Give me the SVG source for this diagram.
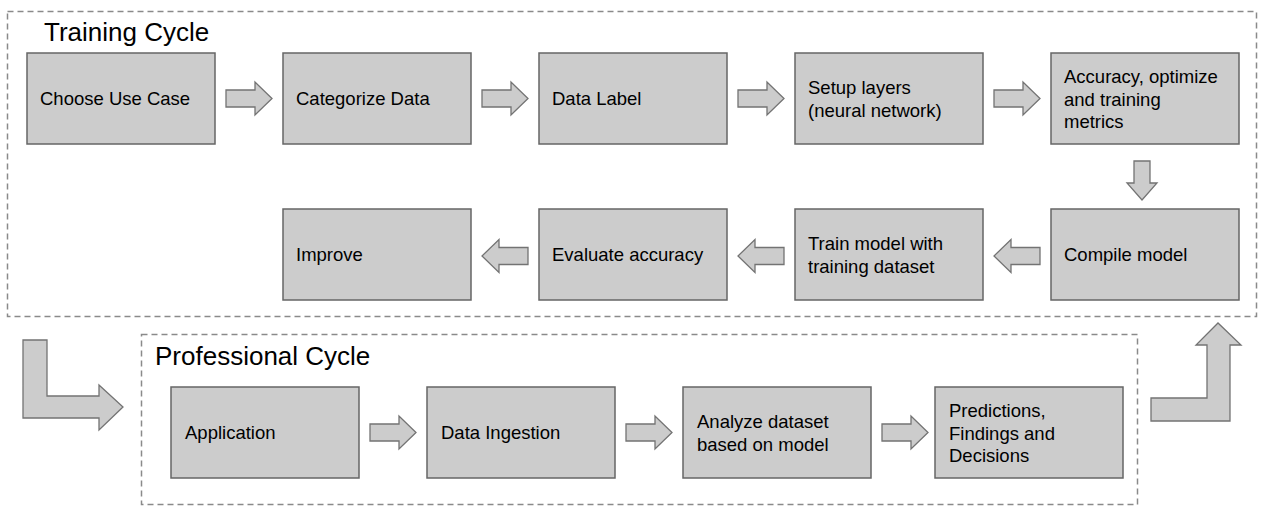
<svg xmlns="http://www.w3.org/2000/svg" width="1264" height="515" viewBox="0 0 1264 515">
<style>
.frame{fill:none;stroke:#8a8a8a;stroke-width:1.5;stroke-dasharray:6 4}
.box{fill:#cccccc;stroke:#666666;stroke-width:1.5}
.arrow{fill:#cccccc;stroke:#737373;stroke-width:1.3;stroke-linejoin:miter}
.t{font-family:"Liberation Sans",Arial,sans-serif;font-size:18.5px;fill:#000}
.title{font-family:"Liberation Sans",Arial,sans-serif;font-size:26px;fill:#000}
</style>
<defs>
<path id="ar" d="M0,-8.5 H29 V-16.5 L46,0 L29,16.5 V8.5 H0 Z"/>
<path id="al" d="M46,-8.5 H17 V-16.5 L0,0 L17,16.5 V8.5 H46 Z"/>
</defs>
<rect width="1264" height="515" fill="#ffffff"/>
<g id="training-cycle">
<rect class="frame" x="7.5" y="11.5" width="1249" height="305"/>
<text class="title" x="44" y="41">Training Cycle</text>
</g>
<g id="professional-cycle">
<rect class="frame" x="141.5" y="334.5" width="996" height="170"/>
<text class="title" x="155" y="364.5">Professional Cycle</text>
</g>
<g id="n1"><rect class="box" x="27" y="53" width="188" height="91"/><text class="t" x="40" y="105">Choose Use Case</text></g>
<g id="n2"><rect class="box" x="283" y="53" width="188" height="91"/><text class="t" x="296" y="105">Categorize Data</text></g>
<g id="n3"><rect class="box" x="539" y="53" width="188" height="91"/><text class="t" x="552" y="105">Data Label</text></g>
<g id="n4"><rect class="box" x="795" y="53" width="188" height="91"/><text class="t" x="808" y="94">Setup layers</text><text class="t" x="808" y="116.5">(neural network)</text></g>
<g id="n5"><rect class="box" x="1051" y="53" width="188" height="91"/><text class="t" x="1064" y="83">Accuracy, optimize</text><text class="t" x="1064" y="105.5">and training</text><text class="t" x="1064" y="128">metrics</text></g>
<g id="n6"><rect class="box" x="1051" y="209" width="188" height="91"/><text class="t" x="1064" y="261">Compile model</text></g>
<g id="n7"><rect class="box" x="795" y="209" width="188" height="91"/><text class="t" x="808" y="250">Train model with</text><text class="t" x="808" y="272.5">training dataset</text></g>
<g id="n8"><rect class="box" x="539" y="209" width="188" height="91"/><text class="t" x="552" y="261">Evaluate accuracy</text></g>
<g id="n9"><rect class="box" x="283" y="209" width="188" height="91"/><text class="t" x="296" y="261">Improve</text></g>
<g id="p1"><rect class="box" x="171" y="387" width="188" height="91"/><text class="t" x="185" y="439">Application</text></g>
<g id="p2"><rect class="box" x="427" y="387" width="188" height="91"/><text class="t" x="441" y="439">Data Ingestion</text></g>
<g id="p3"><rect class="box" x="683" y="387" width="188" height="91"/><text class="t" x="697" y="428">Analyze dataset</text><text class="t" x="697" y="450.5">based on model</text></g>
<g id="p4"><rect class="box" x="935" y="387" width="188" height="91"/><text class="t" x="949" y="417">Predictions,</text><text class="t" x="949" y="439.5">Findings and</text><text class="t" x="949" y="462">Decisions</text></g>
<g id="connectors">
<use href="#ar" class="arrow" x="226" y="98.5"/>
<use href="#ar" class="arrow" x="482" y="98.5"/>
<use href="#ar" class="arrow" x="738" y="98.5"/>
<use href="#ar" class="arrow" x="994" y="98.5"/>
<path class="arrow" d="M1134,161 H1150 V183 H1157 L1142,200 L1127,183 H1134 Z"/>
<use href="#al" class="arrow" x="994" y="256"/>
<use href="#al" class="arrow" x="738" y="256"/>
<use href="#al" class="arrow" x="482" y="256"/>
<path class="arrow" d="M23,340 H47 V396 H99 V385 L123,407 L99,430 V418 H23 Z"/>
<use href="#ar" class="arrow" x="370" y="432.5"/>
<use href="#ar" class="arrow" x="626" y="432.5"/>
<use href="#ar" class="arrow" x="882" y="432.5"/>
<path class="arrow" d="M1151,398 H1207 V345 H1196 L1218,323 L1241,345 H1230 V421 H1151 Z"/>
</g>
</svg>
